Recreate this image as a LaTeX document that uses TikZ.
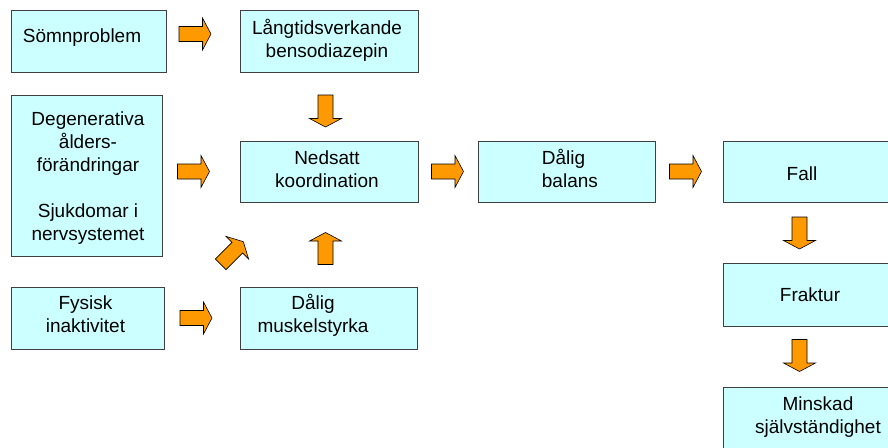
\documentclass[tikz,border=0pt]{standalone}
\usepackage{fontspec}
\setmainfont{Liberation Sans}
\definecolor{boxfill}{HTML}{CCFFFF}
\definecolor{arrfill}{HTML}{FF9900}
\definecolor{boxline}{HTML}{404040}
\newcommand\mytop{\rule{0pt}{15pt}}
\newcommand\mybot{\rule[-4pt]{0pt}{4pt}}
\tikzset{
  diabox/.style={draw=boxline, fill=boxfill, line width=0.9pt, inner sep=0pt, outer sep=0pt, anchor=north west},
  diatext/.style={inner sep=0pt, align=center, font=\fontsize{19pt}{23pt}\selectfont, text=black},
  barrow/.pic={\draw[fill=arrfill, draw=black, line width=0.6pt, line join=miter]
     (-16,-7.5) -- (7.5,-7.5) -- (7.5,-16) -- (16,0) -- (7.5,16) -- (7.5,7.5) -- (-16,7.5) -- cycle;}
}
\begin{document}
\begin{tikzpicture}[x=1pt,y=-1pt]
\useasboundingbox (0,0) rectangle (888,447);
\fill[white] (0,0) rectangle (888,447);
\clip (0,0) rectangle (888,447);
% boxes
\node[diabox, minimum width=155pt, minimum height=62pt] (somn) at (11,10.7) {};
\node[diabox, minimum width=177.3pt, minimum height=62pt] (lang) at (240.7,10.7) {};
\node[diabox, minimum width=151.3pt, minimum height=161pt] (deg) at (11,95.7) {};
\node[diabox, minimum width=177.3pt, minimum height=61pt] (ned) at (240.7,141) {};
\node[diabox, minimum width=153.3pt, minimum height=62pt] (fys) at (11,287) {};
\node[diabox, minimum width=176.3pt, minimum height=62pt] (musk) at (240.7,287) {};
\node[diabox, minimum width=177pt, minimum height=61pt] (bal) at (478,141) {};
\node[diabox, minimum width=178pt, minimum height=61pt] (fall) at (723,141) {};
\node[diabox, minimum width=178pt, minimum height=63pt] (frak) at (723,263) {};
\node[diabox, minimum width=178pt, minimum height=62pt] (mins) at (723,387) {};
% texts
\node[diatext] (somn-t) at (82,36.5) {\mytop Sömnproblem\mybot};
\node[diatext] (lang-t) at (327,40) {\mytop Långtidsverkande\\bensodiazepin\mybot};
\node[diatext] (deg-t) at (88,177) {\mytop Degenerativa\\ålders-\\förändringar\\[23pt]Sjukdomar i\\nervsystemet\mybot};
\node[diatext] (ned-t) at (327,170) {\mytop Nedsatt\\koordination\mybot};
\node[diatext] (fys-t) at (85.5,315.5) {\mytop Fysisk\\inaktivitet\mybot};
\node[diatext] (musk-t) at (313,315.7) {\mytop Dålig\\muskelstyrka\mybot};
\node[diatext, align=left, anchor=west] (bal-t) at (541.7,170.5) {\mytop Dålig\\balans\mybot};
\node[diatext] (fall-t) at (802,174.5) {\mytop Fall\mybot};
\node[diatext] (frak-t) at (810,295.5) {\mytop Fraktur\mybot};
\node[diatext] (mins-t) at (818,416) {\mytop Minskad\\självständighet\mybot};
% block arrows
\pic (a1) at (195,34) {barrow};
\pic (a2) at (193.5,171.5) {barrow};
\pic (a3) at (196,318) {barrow};
\pic[rotate=45] (a4) at (232,253) {barrow};
\pic[rotate=90] (a5) at (325.5,248.5) {barrow};
\pic[rotate=-90] (a6) at (325.5,111) {barrow};
\pic (a7) at (447.5,171.5) {barrow};
\pic (a8) at (685.5,171.5) {barrow};
\pic[rotate=-90] (a9) at (799.5,233) {barrow};
\pic[rotate=-90] (a10) at (799.5,355.5) {barrow};
\end{tikzpicture}
\end{document}
